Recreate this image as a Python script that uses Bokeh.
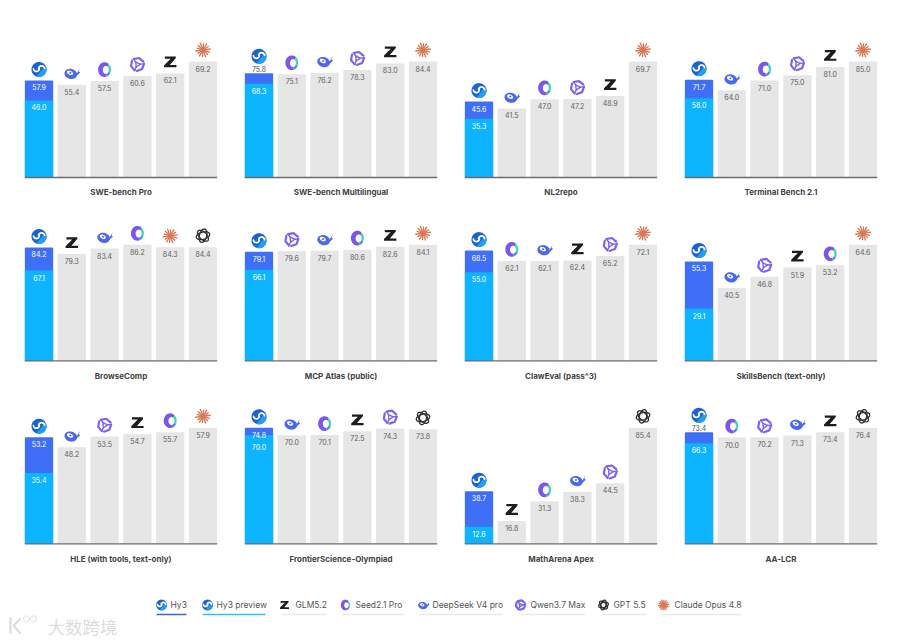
import numpy as np
from bokeh.core.properties import value
from bokeh.embed import file_html
from bokeh.layouts import column, row
from bokeh.models import Range1d
from bokeh.plotting import figure
from bokeh.resources import INLINE

benchmarks = [
    "SWE-bench Pro", "SWE-bench Multilingual", "NL2repo", "Terminal Bench 2.1",
    "BrowseComp", "MCP Atlas (public)", "ClawEval (pass^3)", "SkillsBench (text-only)",
    "HLE (with tools, text-only)", "FrontierScience-Olympiad", "MathArena Apex", "AA-LCR",
]
hy3 = [57.9, 75.8, 45.6, 71.7, 84.2, 79.1, 68.5, 55.3, 53.2, 74.8, 38.7, 73.4]
hy3_preview = [46.0, 68.3, 35.3, 58.0, 67.1, 66.1, 55.0, 29.1, 35.4, 70.0, 12.6, 66.3]
rival_models = [
    ["deepseek", "seed", "qwen", "glm", "claude"],
    ["seed", "deepseek", "qwen", "glm", "claude"],
    ["deepseek", "seed", "qwen", "glm", "claude"],
    ["deepseek", "seed", "qwen", "glm", "claude"],
    ["glm", "deepseek", "seed", "claude", "gpt"],
    ["qwen", "deepseek", "seed", "glm", "claude"],
    ["seed", "deepseek", "glm", "qwen", "claude"],
    ["deepseek", "qwen", "glm", "seed", "claude"],
    ["deepseek", "qwen", "glm", "seed", "claude"],
    ["deepseek", "seed", "glm", "qwen", "gpt"],
    ["glm", "seed", "deepseek", "qwen", "gpt"],
    ["seed", "qwen", "deepseek", "glm", "gpt"],
]
rival_values = [
    [55.4, 57.5, 60.6, 62.1, 69.2],
    [75.1, 76.2, 78.3, 83.0, 84.4],
    [41.5, 47.0, 47.2, 48.9, 69.7],
    [64.0, 71.0, 75.0, 81.0, 85.0],
    [79.3, 83.4, 86.2, 84.3, 84.4],
    [79.6, 79.7, 80.6, 82.6, 84.1],
    [62.1, 62.1, 62.4, 65.2, 72.1],
    [40.5, 46.8, 51.9, 53.2, 64.6],
    [48.2, 53.5, 54.7, 55.7, 57.9],
    [70.0, 70.1, 72.5, 74.3, 73.8],
    [16.8, 31.3, 38.3, 44.5, 85.4],
    [70.0, 70.2, 71.3, 73.4, 76.4],
]
hy3_label_above = ["SWE-bench Multilingual", "AA-LCR"]
legend_labels = ["Hy3", "Hy3 preview", "GLM5.2", "Seed2.1 Pro", "DeepSeek V4 pro",
                 "Qwen3.7 Max", "GPT 5.5", "Claude Opus 4.8"]
legend_icons = ["hy3", "hy3", "glm", "seed", "deepseek", "qwen", "gpt", "claude"]
legend_colors = ["#3f66d8", "#2cc3ee", "#e9e9e9", "#e9e9e9", "#e9e9e9", "#e9e9e9", "#e9e9e9", "#e9e9e9"]
legend_icon_x = [161, 207, 284, 345, 423, 520, 603, 663]
legend_text_x = [170, 216, 295, 355, 432, 530, 613, 674]
legend_line = [(156, 186), (202, 265), (282, 326), (342, 403), (419, 502), (518, 585), (601, 646), (662, 741)]

CYAN, BLUE, GRAY = "#0db4ff", "#3f6ff6", "#e6e6e6"
FONT = value("Inter")
PITCH, BAR_W, MAX_PX = 32.8, 28.3, 116.0
FIG_W = 220
ROW_H = [206, 184, 184]
BELOW = [29.0, 29.7, 30.7]
LEFT_PX = 38.5


def ellipse(cx=0.0, cy=0.0, rx=1.0, ry=1.0, rot=0.0, a0=0.0, a1=360.0, n=40):
    t = np.radians(np.linspace(a0, a1, n))
    x, y = rx * np.cos(t), ry * np.sin(t)
    r = np.radians(rot)
    return cx + x * np.cos(r) - y * np.sin(r), cy + x * np.sin(r) + y * np.cos(r)


def draw_icon(p, kind, cx, cy, sx, sy):
    def fill(x, y, color):
        p.patch(cx + np.asarray(x) * sx, cy + np.asarray(y) * sy, fill_color=color, line_color=None)

    def stroke(x, y, color, w):
        p.line(cx + np.asarray(x) * sx, cy + np.asarray(y) * sy, line_color=color, line_width=w, line_cap="round")

    if kind == "hy3":
        fill(*ellipse(rx=7.5, ry=7.5), "#1a62d6")
        fill(*ellipse(rx=7.5, ry=7.5, a0=-110, a1=30), "#22a0f0")
        a1x, a1y = ellipse(cx=-2.6, cy=1.0, rx=3.0, ry=3.0, a0=190, a1=350, n=14)
        a2x, a2y = ellipse(cx=2.6, cy=0.6, rx=3.0, ry=3.0, a0=170, a1=10, n=14)
        stroke(np.r_[a1x, a2x], np.r_[a1y, a2y], "#ffffff", 1.8)
    elif kind == "seed":
        for a0, a1, c in [(50, 285, "#7a55ee"), (285, 335, "#4a8df0"), (335, 410, "#3fd8b2")]:
            ox, oy = ellipse(rx=6.5, ry=7.4, a0=a0, a1=a1, n=20)
            ix, iy = ellipse(cx=1.2, cy=-0.3, rx=3.0, ry=4.0, a0=a0, a1=a1, n=20)
            fill(np.r_[ox, ix[::-1]], np.r_[oy, iy[::-1]], c)
    elif kind == "deepseek":
        c = "#4a68f2"
        fill(*ellipse(cx=-1.0, cy=-0.8, rx=6.4, ry=5.0, rot=-15), c)
        fill(*ellipse(cx=-1.8, cy=0.3, rx=3.2, ry=2.0, rot=-25), "#ffffff")
        fill([1.5, 5.2, 8.2, 6.9, 8.4, 4.7, 3.0], [-3.5, 0.0, 5.0, 1.6, 0.6, -2.8, -4.0], c)
        fill(*ellipse(cx=-1.5, cy=0.3, rx=1.1, ry=0.9), c)
    elif kind == "qwen":
        c = "#7c62f2"
        for k in range(3):
            vx, vy = ellipse(rx=6.6, ry=6.6, a0=25 + 120 * k, a1=125 + 120 * k, n=3)
            stroke(vx, vy, c, 2.2)
            ix, iy = ellipse(rx=2.9, ry=2.9, a0=125 + 120 * k, a1=245 + 120 * k, n=2)
            stroke([vx[-1], ix[0], ix[1]], [vy[-1], iy[0], iy[1]], c, 1.4)
    elif kind == "glm":
        fill([-5.4, 5.6, 5.6, -0.4, 6.2, 6.2, -6.2, -6.2, 0.4, -5.4],
             [5.4, 5.4, 3.8, -3.2, -3.2, -5.4, -5.4, -3.6, 3.2, 3.2], "#1d1d1f")
    elif kind == "claude":
        c = "#da7a58"
        fill(*ellipse(rx=2.6, ry=2.6, n=16), c)
        for k, r in enumerate([7.3, 6.3, 7.0, 6.0, 7.2, 6.6, 6.2, 7.3, 6.0, 6.9, 6.4, 7.1, 6.2, 6.8]):
            a = np.radians(k * 360 / 14 + 8)
            stroke([0, r * np.cos(a)], [0, r * np.sin(a)], c, 1.4)
    elif kind == "gpt":
        for rot in (15, 75, 135):
            stroke(*ellipse(rx=6.9, ry=3.6, rot=rot), "#303030", 1.3)


def make_panel(i, row_i):
    name = benchmarks[i]
    H = ROW_H[row_i]
    below = BELOW[row_i]
    peak = max([hy3[i]] + rival_values[i])
    ppu = MAX_PX / peak
    p = figure(width=FIG_W, height=H, output_backend="svg", toolbar_location=None,
               x_range=Range1d(-LEFT_PX / PITCH, (FIG_W - LEFT_PX) / PITCH),
               y_range=Range1d(-below / ppu, (H - below) / ppu), min_border=0)
    p.axis.visible = False
    p.grid.visible = False
    p.outline_line_color = None
    w = BAR_W / PITCH
    xs = list(range(1, 6))
    p.vbar(x=xs, top=rival_values[i], bottom=0, width=w, fill_color=GRAY, line_color=None, border_radius=(1, 1, 0, 0))
    p.vbar(x=[0], top=[hy3[i]], bottom=0, width=w, fill_color=BLUE, line_color=None, border_radius=(1, 1, 0, 0))
    p.vbar(x=[0], top=[hy3_preview[i]], bottom=0, width=w, fill_color=CYAN, line_color=None)
    p.segment(x0=[-w / 2], y0=[0], x1=[5 + w / 2], y1=[0], line_color="#6b6b6b", line_width=1.3)

    def label(x, y, text, color, off):
        p.text(x=x, y=y, text=text, text_color=color, text_font=FONT, text_font_size="7px",
               text_align="center", text_baseline="middle", y_offset=off)

    label(xs, rival_values[i], [f"{v:.1f}" for v in rival_values[i]], "#606060", 7)
    above = name in hy3_label_above
    gap_px = (hy3[i] - hy3_preview[i]) * ppu
    if above:
        label([0], [hy3[i]], [f"{hy3[i]:.1f}"], "#555555", -4.5)
        preview_off = 7
    else:
        label([0], [hy3[i]], [f"{hy3[i]:.1f}"], "#ffffff", 7)
        preview_off = 7 + max(0.0, 12 - gap_px)
    label([0], [hy3_preview[i]], [f"{hy3_preview[i]:.1f}"], "#ffffff", preview_off)
    p.text(x=[2.5], y=[0], text=[name], text_color="#444444", text_font=FONT, text_font_size="8px",
           text_font_style="bold", text_align="center", text_baseline="middle", y_offset=14.7)

    sx, sy = 1 / PITCH, 1 / ppu
    draw_icon(p, "hy3", 0, hy3[i] + (17.0 if above else 11.0) * sy, sx, sy)
    for x, m, v in zip(xs, rival_models[i], rival_values[i]):
        draw_icon(p, m, x, v + 11.5 * sy, sx, sy)
    return p


rows = []
for r in range(3):
    rows.append(row(*[make_panel(r * 4 + c, r) for c in range(4)], spacing=0))

leg = figure(width=880, height=68, output_backend="svg", toolbar_location=None,
             x_range=Range1d(0, 880), y_range=Range1d(642, 574), min_border=0)
leg.axis.visible = False
leg.grid.visible = False
leg.outline_line_color = None
for lab, ic, col, ix, tx, (a, b) in zip(legend_labels, legend_icons, legend_colors,
                                         legend_icon_x, legend_text_x, legend_line):
    draw_icon(leg, ic, ix, 604.5, 0.72, -0.72)
    leg.text(x=[tx], y=[604.8], text=[lab], text_font=FONT, text_font_size="8.5px", text_color="#555555",
             text_align="left", text_baseline="middle")
    leg.segment(x0=[a], y0=[614], x1=[b], y1=[614], line_color=col, line_width=1.4)

# faint watermark
wm = "#dcdcdc"
leg.line([10, 10], [617, 633], line_color=wm, line_width=2.2)
leg.line([20, 13, 20], [618, 625, 633], line_color=wm, line_width=2.2)
for ox in (26, 33):
    xx, yy = ellipse(cx=ox, cy=618.5, rx=3.0, ry=3.0)
    leg.line(xx, yy, line_color=wm, line_width=1.0)
leg.text(x=[47], y=[626], text=["大数跨境"], text_font=value("Noto Sans CJK SC"), text_font_size="17.5px",
         text_color=wm, text_align="left", text_baseline="middle")

layout = column(*rows, leg, spacing=0)
open("out.html", "w").write(file_html(layout, INLINE))
